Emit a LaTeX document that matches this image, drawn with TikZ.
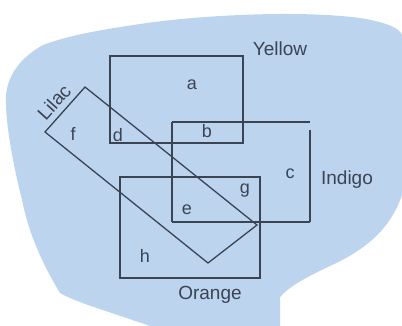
\documentclass[tikz,border=0pt]{standalone}
\usepackage{fontspec}
\setmainfont{Liberation Sans}
\definecolor{blob}{HTML}{BDD4EF}
\definecolor{ink}{HTML}{3A4452}
\begin{document}
\begin{tikzpicture}[x=1pt,y=-1pt,
  edge/.style={draw=ink,line width=1.3pt},
  lbl/.style={text=ink,font=\fontsize{18}{18}\selectfont,inner sep=0pt},
  setname/.style={text=ink,font=\fontsize{19}{19}\selectfont,inner sep=0pt}]
\useasboundingbox (0,0) rectangle (402,326);
% background region
\fill[blob] (43,45) .. controls (70,35) and (100,30) .. (140,24)
  .. controls (200,15) and (300,10) .. (360,18)
  .. controls (385,22) and (400,28) .. (402,35)
  -- (402,195)
  .. controls (392,225) and (370,248) .. (330,266)
  .. controls (305,278) and (290,286) .. (280,297)
  -- (280,326) -- (150,326)
  .. controls (110,312) and (75,302) .. (60,293)
  .. controls (40,260) and (28,230) .. (22,200)
  .. controls (12,160) and (5,120) .. (6,95)
  .. controls (8,75) and (20,58) .. (43,45) -- cycle;
% Yellow
\draw[edge] (110,56) rectangle (243,143);
% Indigo
\draw[edge] (172,122) -- (310,122);
\draw[edge] (310,130) -- (310,222);
\draw[edge] (172,122) -- (172,222);
\draw[edge,line width=2.2pt] (172,222) -- (310,222);
% Orange
\draw[edge] (120,177) rectangle (260,278);
\draw[edge,line width=2pt] (120,177) -- (260,177);
% Lilac
\draw[edge] (85,87) -- (257,225) -- (208,263) -- (45,132) -- cycle;
% set names
\node[setname] (yellow) at (280,49) {Yellow};
\node[setname] (indigo) at (347,180) {Indigo};
\node[setname] (orange) at (210,295) {Orange};
\node[setname,rotate=48] (lilac) at (54,102) {Lilac};
% region labels
\node[lbl] (a) at (192,85) {a};
\node[lbl] (b) at (207,131) {b};
\node[lbl] (c) at (290,174) {c};
\node[lbl] (d) at (118,135) {d};
\node[lbl] (e) at (187,210) {e};
\node[lbl] (f) at (73,134) {f};
\node[lbl] (g) at (245,191) {g};
\node[lbl] (h) at (145,256) {h};
\end{tikzpicture}
\end{document}
